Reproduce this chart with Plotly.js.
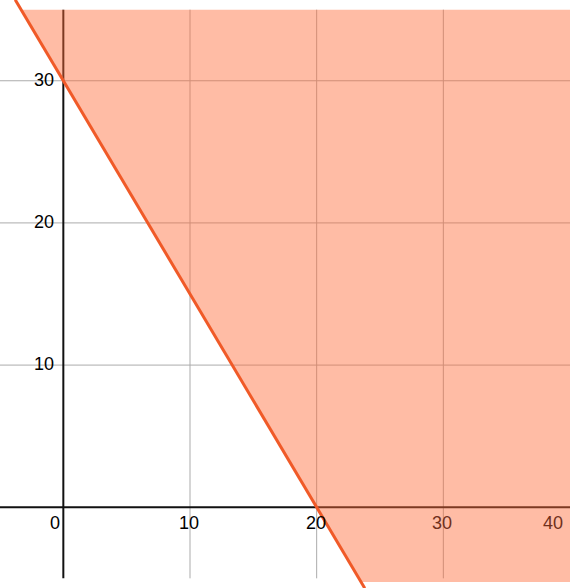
<!DOCTYPE html>
<html>
<head>
<meta charset="utf-8">
<script src="https://cdn.plot.ly/plotly-3.0.1.min.js"></script>
<style>html,body{margin:0;padding:0;background:#fff;}#chart{width:570px;height:588px;}</style>
</head>
<body>
<div id="chart"></div>
<script>
// Boundary line 3x + 2y = 60, read at the picture's edges
const lineX = [-3.8, 23.8];
const lineY = [35.7, -5.7];
// Shaded feasible region (above the line), clipped at the drawing box
const shadeX = [-3.333, 41, 41, 23.5];
const shadeY = [35, 35, -5.25, -5.25];
// Ticks and grid
const xTickVals = [0, 10, 20, 30, 40];
const xTickText = ['0', '10', '20', '30', '40'];
const yTickVals = [10, 20, 30];
const yTickText = ['10', '20', '30'];
const gridX = [10, 20, 30];
const gridY = [10, 20, 30];

const xRange = [-5, 40];
const yRange = [-5.68, 35.68];
const axisSpanY = [-5, 35];

const fillColor = 'rgba(255,106,55,0.45)';
const tintedText = 'rgb(112,48,28)';
const lineColor = '#F05A28';

function inShade(x, y) {
  // point-in-polygon for label tinting
  let inside = false;
  for (let i = 0, j = shadeX.length - 1; i < shadeX.length; j = i++) {
    const xi = shadeX[i], yi = shadeY[i], xj = shadeX[j], yj = shadeY[j];
    if (((yi > y) !== (yj > y)) && (x < (xj - xi) * (y - yi) / (yj - yi) + xi)) inside = !inside;
  }
  return inside;
}

const shapes = [];
// grid (below)
gridX.forEach(v => shapes.push({type:'line', layer:'below', xref:'x', yref:'y', x0:v, x1:v, y0:axisSpanY[0], y1:axisSpanY[1], line:{color:'#ababab', width:1}}));
gridY.forEach(v => shapes.push({type:'line', layer:'below', xref:'x', yref:'y', x0:xRange[0], x1:xRange[1], y0:v, y1:v, line:{color:'#ababab', width:1}}));
// axes (below)
shapes.push({type:'line', layer:'below', xref:'x', yref:'y', x0:xRange[0], x1:xRange[1], y0:0, y1:0, line:{color:'#111', width:2}});
shapes.push({type:'line', layer:'below', xref:'x', yref:'y', x0:0, x1:0, y0:axisSpanY[0], y1:axisSpanY[1], line:{color:'#111', width:2}});

// fill region (above)
let path = 'M ' + shadeX.map((x, i) => x + ',' + shadeY[i]).join(' L ') + ' Z';
shapes.push({type:'path', layer:'above', xref:'x', yref:'y', path:path, fillcolor:fillColor, line:{width:0}});
// boundary line (above)
shapes.push({type:'line', layer:'above', xref:'x', yref:'y', x0:lineX[0], y0:lineY[0], x1:lineX[1], y1:lineY[1], line:{color:lineColor, width:3}});

const font = {family:'Liberation Sans, Arial, sans-serif', size:18, color:'#000'};
const pxPerX = 570 / (xRange[1] - xRange[0]);
const pxPerY = 588 / (yRange[1] - yRange[0]);
const annotations = [];
xTickVals.forEach((v, i) => {
  let shift = -1;
  if (i === 0) shift = -8;
  if (i === xTickVals.length - 1) shift = -17;
  const cx = v + shift / pxPerX, cy = -16.5 / pxPerY;
  annotations.push({xref:'x', yref:'y', x:v, y:0, text:xTickText[i], showarrow:false,
    xanchor:'center', yanchor:'top', xshift:shift, yshift:-4,
    font:Object.assign({}, font, {color: inShade(cx, cy) ? tintedText : '#000'})});
});
yTickVals.forEach((v, i) => {
  const cx = -19 / pxPerX;
  annotations.push({xref:'x', yref:'y', x:0, y:v, text:yTickText[i], showarrow:false,
    xanchor:'right', yanchor:'middle', xshift:-7, yshift:1,
    font:Object.assign({}, font, {color: inShade(cx, v) ? tintedText : '#000'})});
});

const layout = {
  width:570, height:588,
  margin:{l:0, r:0, t:0, b:0},
  paper_bgcolor:'#fff', plot_bgcolor:'#fff',
  showlegend:false,
  xaxis:{range:xRange, visible:false, showgrid:false, zeroline:false, fixedrange:true},
  yaxis:{range:yRange, visible:false, showgrid:false, zeroline:false, fixedrange:true},
  shapes:shapes,
  annotations:annotations
};

// invisible anchor trace so the axes exist
const traces = [{x:lineX, y:lineY, mode:'lines', line:{width:0, color:'rgba(0,0,0,0)'}, hoverinfo:'skip'}];

Plotly.newPlot('chart', traces, layout, {displayModeBar:false, staticPlot:true});
</script>
</body>
</html>
